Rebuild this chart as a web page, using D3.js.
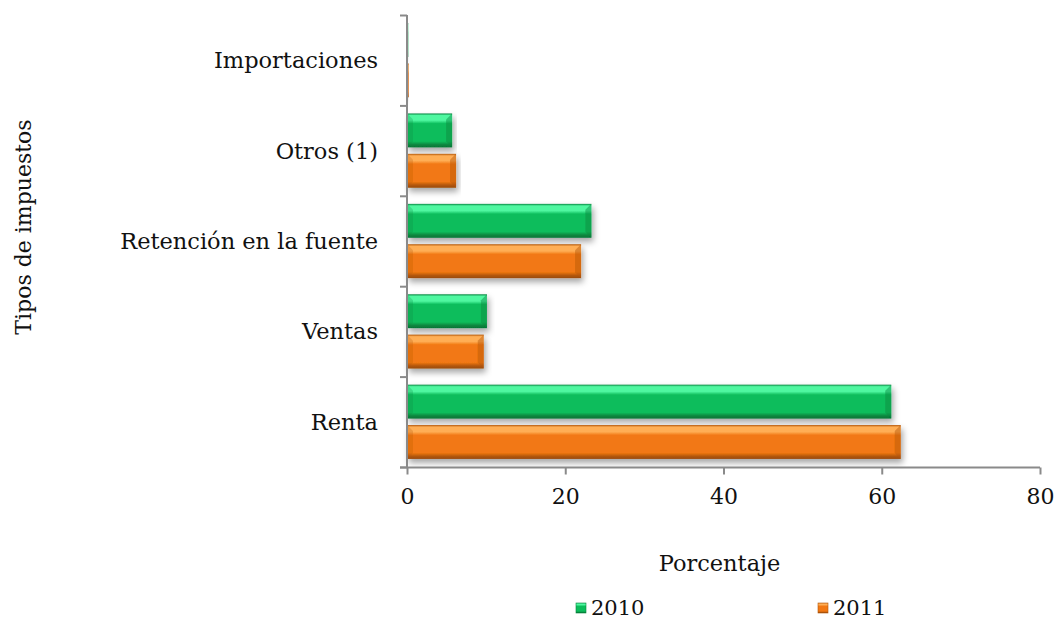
<!DOCTYPE html>
<html>
<head>
<meta charset="utf-8">
<script src="https://cdn.jsdelivr.net/npm/d3@7"></script>
<style>
  html, body { margin: 0; padding: 0; background: #ffffff; }
  svg { display: block; }
  text { font-family: "DejaVu Serif", "Liberation Serif", serif; fill: #111; }
</style>
</head>
<body>
<svg id="chart" width="1060" height="620"></svg>
<script>
// Tax categories, top to bottom
const categories = ["Importaciones", "Otros (1)", "Retención en la fuente", "Ventas", "Renta"];
// Share of collection (%) per year
const series2010 = [0.15, 5.7, 23.3, 10.1, 61.2];
const series2011 = [0.2, 6.2, 22.0, 9.7, 62.4];
const seriesNames = ["2010", "2011"];
const xTicks = [0, 20, 40, 60, 80];

const svg = d3.select("#chart");
const m = { left: 407, right: 20, top: 15, bottom: 153 };
const W = 1060, H = 620;

const x = d3.scaleLinear().domain([0, 80]).range([m.left, W - m.right]);
const y = d3.scaleBand().domain(categories).range([m.top, H - m.bottom]).paddingInner(0).paddingOuter(0);
const inner = d3.scaleBand().domain(seriesNames).range([0, y.bandwidth()]).paddingInner(0.16).paddingOuter(0.2);

const palette = {
  "2010": { light: "#4ff7a0", base: "#0cbd5b", dark: "#08863f", edge: "#067536" },
  "2011": { light: "#ffae55", base: "#f27812", dark: "#b3570b", edge: "#9a4a08" }
};

const defs = svg.append("defs");
seriesNames.forEach(s => {
  const c = palette[s];
  const g = defs.append("linearGradient").attr("id", "grad" + s)
    .attr("x1", 0).attr("y1", 0).attr("x2", 0).attr("y2", 1);
  [[0, c.dark], [0.06, c.light], [0.2, c.light], [0.3, c.base], [0.82, c.base], [0.92, c.dark], [1, c.edge]]
    .forEach(([o, col]) => g.append("stop").attr("offset", o).attr("stop-color", col));
});
const shadow = defs.append("filter").attr("id", "shadow")
  .attr("x", "-5%").attr("y", "-20%").attr("width", "115%").attr("height", "160%");
shadow.append("feDropShadow").attr("dx", 2).attr("dy", 4).attr("stdDeviation", 3)
  .attr("flood-color", "#000").attr("flood-opacity", 0.35);

// Bars
const rows = categories.map((c, i) => ({ cat: c, vals: [
  { s: "2010", v: series2010[i] }, { s: "2011", v: series2011[i] }
]}));

const barG = svg.append("g");
rows.forEach(r => {
  r.vals.forEach(d => {
    const x0 = x(0), x1 = x(d.v);
    const y0 = y(r.cat) + inner(d.s), h = inner.bandwidth();
    const w = x1 - x0;
    const g = barG.append("g").attr("filter", "url(#shadow)");
    g.append("rect").attr("x", x0).attr("y", y0).attr("width", w).attr("height", h)
      .attr("fill", `url(#grad${d.s})`);
    // bevelled right end and left end
    const bev = Math.min(6, w / 2);
    g.append("path")
      .attr("d", `M${x1},${y0} L${x1 - bev},${y0 + bev} L${x1 - bev},${y0 + h - bev} L${x1},${y0 + h} Z`)
      .attr("fill", palette[d.s].dark).attr("opacity", 0.45);
    g.append("path")
      .attr("d", `M${x0},${y0} L${x0 + bev},${y0 + bev} L${x0 + bev},${y0 + h - bev} L${x0},${y0 + h} Z`)
      .attr("fill", palette[d.s].dark).attr("opacity", 0.25);
  });
});

// Axes
const axisColor = "#8a8a8a";
const xAxis = svg.append("g").attr("transform", `translate(0,${H - m.bottom + 0.5})`)
  .call(d3.axisBottom(x).tickValues(xTicks).tickSize(7).tickPadding(14).tickFormat(d3.format("d")));
xAxis.select(".domain").attr("d", `M${x(0) - 7},0H${x(80)}`);
const yTicks = d3.range(categories.length + 1).map(i => m.top + i * y.step());
const yAxisG = svg.append("g");
yAxisG.append("line").attr("x1", x(0)).attr("x2", x(0)).attr("y1", m.top).attr("y2", H - m.bottom);
yTicks.forEach(t => yAxisG.append("line").attr("x1", x(0) - 7).attr("x2", x(0)).attr("y1", t + 0.5).attr("y2", t + 0.5));
yAxisG.selectAll("line").attr("stroke", axisColor).attr("stroke-width", 2);
xAxis.selectAll(".domain, line").attr("stroke", axisColor).attr("stroke-width", 2);
xAxis.selectAll("text").style("font-family", '"DejaVu Serif", serif').style("font-size", "22px").attr("fill", "#111");

// Category labels
svg.append("g").selectAll("text").data(categories).join("text")
  .attr("x", x(0) - 29).attr("y", d => y(d) + y.bandwidth() / 2)
  .attr("text-anchor", "end").attr("dominant-baseline", "central")
  .style("font-size", "22.5px").text(d => d);

// Axis titles
svg.append("text").attr("x", (x(0) + x(80)) / 2 - 4).attr("y", 563)
  .attr("text-anchor", "middle").attr("dominant-baseline", "central")
  .style("font-size", "22.5px").text("Porcentaje");
svg.append("text").attr("transform", `translate(23,${(m.top + H - m.bottom) / 2 - 14}) rotate(-90)`)
  .attr("text-anchor", "middle").attr("dominant-baseline", "central")
  .style("font-size", "22px").text("Tipos de impuestos");

// Legend
const legendX = { "2010": 576, "2011": 818 };
const leg = svg.append("g");
seriesNames.forEach(s => {
  leg.append("rect").attr("x", legendX[s]).attr("y", 603).attr("width", 10).attr("height", 10)
    .attr("fill", `url(#grad${s})`).attr("stroke", palette[s].dark).attr("stroke-width", 0.6);
  leg.append("text").attr("x", legendX[s] + 15).attr("y", 608)
    .attr("dominant-baseline", "central").style("font-size", "21px").text(s);
});
</script>
</body>
</html>
